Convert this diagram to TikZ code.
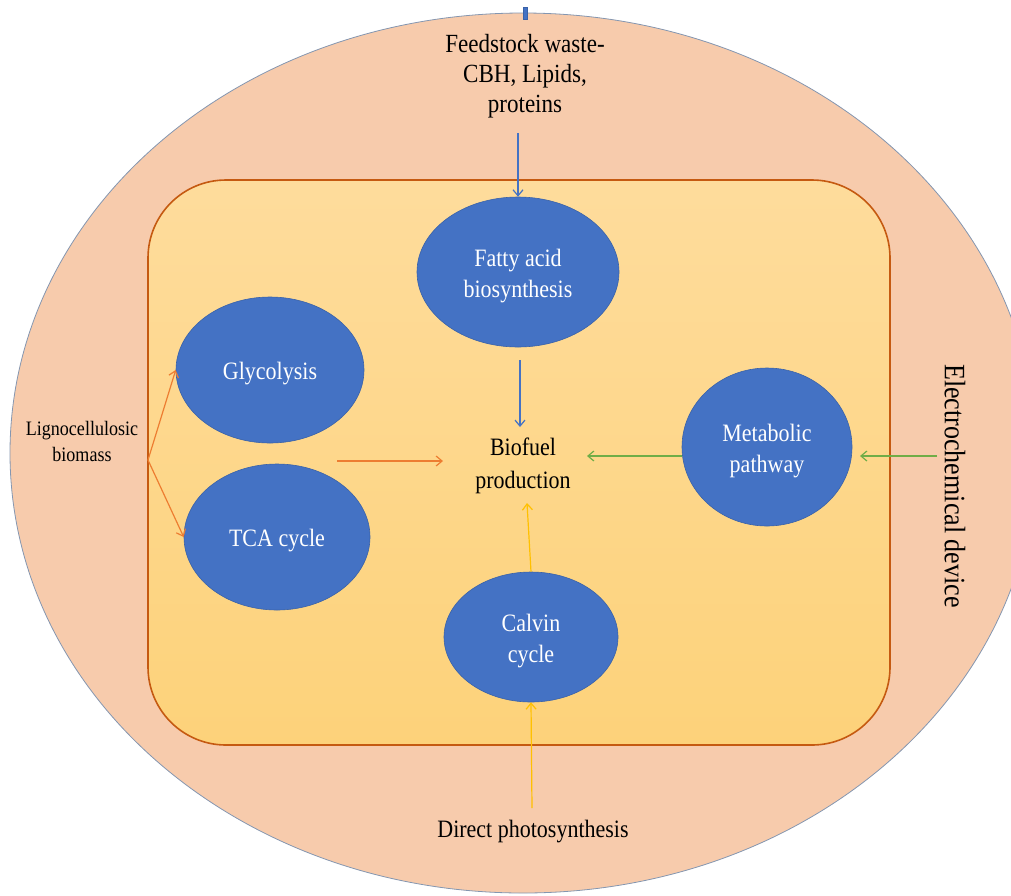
\documentclass[tikz,border=0pt]{standalone}
\usepackage{fontspec}
\setmainfont{Liberation Serif}[FakeStretch=0.88]
\usetikzlibrary{arrows.meta,shapes.geometric}
\definecolor{outerfill}{HTML}{F7CBAC}
\definecolor{outerline}{HTML}{8496B0}
\definecolor{rectline}{HTML}{C55A11}
\definecolor{recttop}{HTML}{FEDC9C}
\definecolor{rectbot}{HTML}{FDD27A}
\definecolor{bluefill}{HTML}{4472C4}
\definecolor{blueline}{HTML}{3A62A8}
\definecolor{arrblue}{HTML}{4472C4}
\definecolor{arrorange}{HTML}{ED7D31}
\definecolor{arrgreen}{HTML}{70AD47}
\definecolor{arryellow}{HTML}{FFC000}
\tikzset{
  bubble/.style={ellipse, fill=bluefill, draw=blueline, line width=0.6pt, inner sep=0pt},
  bubtext/.style={text=white, align=center, font=\fontsize{25}{31}\selectfont, inner sep=0pt, yshift=-4pt},
  lbl/.style={align=center, text=black, inner sep=0pt},
  arr/.style={line width=1.2pt, -{Straight Barb[length=6pt,width=10pt]}},
}
\begin{document}
\begin{tikzpicture}[x=1pt,y=-1pt]
\useasboundingbox (0,0) rectangle (1011,895);
% outer ellipse
\draw[fill=outerfill, draw=outerline, line width=0.8pt] (523,453) ellipse [x radius=513, y radius=440];
% inner rounded rectangle
\shade[top color=recttop, bottom color=rectbot, rounded corners=78pt] (148,180) rectangle (890,745);
\draw[draw=rectline, line width=1.6pt, rounded corners=78pt] (148,180) rectangle (890,745);
% top marker
\node[draw=blueline, fill=bluefill, minimum width=4pt, minimum height=12pt, inner sep=0pt, line width=0.5pt] (mark) at (525,13) {};
% bubbles
\node[bubble, minimum width=202pt, minimum height=150pt, label={[bubtext]center:Fatty acid\\biosynthesis}] (fatty) at (518,272) {};
\node[bubble, minimum width=188pt, minimum height=146pt, label={[bubtext]center:Glycolysis}] (glyc) at (270,370) {};
\node[bubble, minimum width=186pt, minimum height=146pt, label={[bubtext]center:TCA cycle}] (tca) at (277,537) {};
\node[bubble, minimum width=170pt, minimum height=158pt, label={[bubtext]center:Metabolic\\pathway}] (meta) at (767,447) {};
\node[bubble, minimum width=174pt, minimum height=130pt, label={[bubtext]center:Calvin\\cycle}] (calvin) at (531,637) {};
% labels
\node[lbl, font=\fontsize{26.2}{30}\selectfont] (feed) at (525,76.5) {Feedstock waste-\\CBH, Lipids,\\proteins};
\node[lbl, font=\fontsize{20.5}{26}\selectfont] (ligno) at (82,441) {Lignocellulosic\\biomass};
\node[lbl, font=\fontsize{25}{33}\selectfont] (bio) at (523,466) {Biofuel\\production};
\node[lbl, font=\fontsize{25}{26}\selectfont] (photo) at (533,832) {Direct photosynthesis};
\node[lbl, font=\fontsize{29.6}{30}\selectfont, rotate=-90] (elec) at (955,486) {Electrochemical device};
% coordinates
\coordinate (lsplit) at (148,460);
\coordinate (o1) at (337,461);
\coordinate (o2) at (443,461);
\coordinate (fb1) at (520,360);
\coordinate (fb2) at (520,427);
\coordinate (fs) at (518,133);
\coordinate (g2) at (587,456);
\coordinate (e1) at (937,456);
\coordinate (e2) at (860,456);
\coordinate (y2) at (527,503);
\coordinate (p1) at (532,808);
% arrows
\draw[arr, draw=arrblue] (fs) -- (fatty.north);
\draw[arr, draw=arrblue] (fb1) -- (fb2);
\draw[arr, draw=arrorange] (lsplit) -- (glyc.west);
\draw[arr, draw=arrorange] (lsplit) -- (tca.west);
\draw[arr, draw=arrorange] (o1) -- (o2);
\draw[arr, draw=arrgreen] (meta.west |- g2) -- (g2);
\draw[arr, draw=arrgreen] (e1) -- (e2);
\draw[arr, draw=arryellow] (calvin.north) -- (y2);
\draw[arr, draw=arryellow] (p1) -- (calvin.south);
\end{tikzpicture}
\end{document}
